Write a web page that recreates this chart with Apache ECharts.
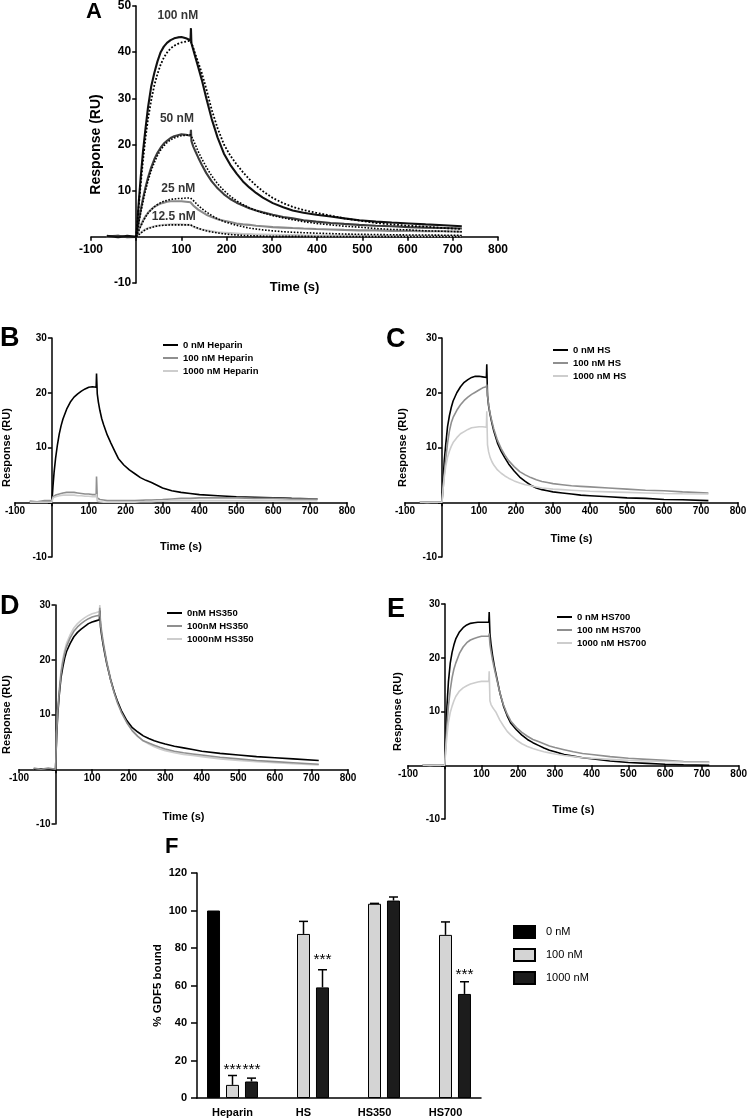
<!DOCTYPE html>
<html>
<head>
<meta charset="utf-8">
<script src="https://cdn.jsdelivr.net/npm/echarts@6/dist/echarts.min.js"></script>
<style>
html,body{margin:0;padding:0;background:#fff;}
#chart{width:750px;height:1120px;}
</style>
</head>
<body>
<div id="chart"></div>
<script>
// ---------- Panel A data (time in s, response in RU) ----------
const tA = [-65,-40,-20,0,3,6,10,15,20,26,33,40,47,54,61,68,76,84,92,100,110,120,121,122,126,130,137,145,155,167,180,194,208,222,236,250,265,280,302,325,346,370,398,430,460,493,530,565,603,640,680,720];
const a100 = [0.2,-0.1,0.2,0,4,8,13,18.5,23,28,32.5,35.5,38,40,41.2,42,42.6,43,43.2,43.3,43,42.6,45.2,42,40.6,39.2,36.8,34,30,25.5,21.5,18,15.6,13.7,12,10.7,9.5,8.5,7.3,6.4,5.7,5.2,4.8,4.4,4,3.6,3.3,3.1,2.9,2.7,2.5,2.3];
const fit100 = [null,null,null,0,3.5,7,11.5,16.5,21,25.5,29.5,32.8,35.3,37.3,38.8,39.9,40.8,41.4,41.8,42.1,42.3,42.5,42.5,42.3,41,39.8,37.8,35.5,32,27.5,23.5,20,17.6,15.7,14,12.5,11.1,9.9,8.4,7.3,6.5,5.8,5.2,4.6,4,3.5,3,2.7,2.4,2.2,1.9,1.7];
const a50 = [0.1,0.2,-0.1,0,1.8,3.6,5.8,8.3,10.5,12.8,15,16.8,18.2,19.3,20.2,20.8,21.4,21.8,22,22.2,22.1,21.9,23.2,20.8,19.6,18.7,17.2,15.6,13.8,12,10.5,9.2,8.2,7.4,6.8,6.2,5.7,5.3,4.8,4.3,4,3.6,3.3,3,2.8,2.6,2.4,2.3,2.1,2,1.9,1.8];
const fit50 = [null,null,null,0,1.6,3.2,5.2,7.6,9.8,12.1,14.3,16.1,17.6,18.8,19.7,20.4,21,21.4,21.7,21.9,22,22.1,22.1,21.9,21,20.1,18.5,16.9,15.1,13.2,11.5,10,8.8,7.8,7,6.3,5.7,5.2,4.6,4.1,3.7,3.3,2.9,2.6,2.3,2.1,1.8,1.6,1.5,1.3,1.2,1.1];
const a25 = [0,0.2,0,0,0.8,1.6,2.5,3.5,4.4,5.2,5.9,6.5,6.9,7.2,7.4,7.6,7.7,7.7,7.7,7.7,7.6,7.5,7.6,7.2,6.8,6.4,5.9,5.4,4.8,4.3,3.8,3.5,3.2,2.9,2.7,2.6,2.4,2.3,2.1,2,1.9,1.8,1.7,1.6,1.5,1.4,1.4,1.3,1.3,1.2,1.2,1.1];
const fit25 = [null,null,null,0,0.7,1.4,2.3,3.3,4.2,5.1,5.9,6.5,7,7.4,7.7,7.9,8.1,8.2,8.3,8.3,8.4,8.4,8.4,8.3,7.9,7.5,6.8,6.1,5.4,4.6,3.9,3.3,2.9,2.5,2.2,1.9,1.7,1.5,1.3,1.1,1,0.9,0.8,0.7,0.6,0.55,0.5,0.45,0.4,0.4,0.35,0.3];
const a12 = [0.1,-0.1,0.1,0,0.3,0.6,0.9,1.3,1.6,1.9,2.1,2.3,2.4,2.5,2.6,2.6,2.7,2.7,2.7,2.7,2.6,2.6,2.6,2.4,2.2,2,1.8,1.6,1.4,1.2,1,0.9,0.8,0.7,0.6,0.6,0.5,0.5,0.45,0.4,0.4,0.35,0.3,0.3,0.3,0.3,0.25,0.25,0.2,0.2,0.2,0.2];
const fit12 = [null,null,null,0,0.25,0.5,0.85,1.2,1.5,1.8,2,2.2,2.35,2.45,2.5,2.55,2.6,2.6,2.6,2.6,2.6,2.6,2.6,2.5,2.3,2.1,1.85,1.6,1.3,1.05,0.85,0.65,0.5,0.4,0.3,0.25,0.2,0.15,0.1,0.1,0.1,0.1,0.08,0.08,0.06,0.06,0.05,0.05,0.05,0.05,0.05,0.05];
const labelsA = [
  {name:'100 nM', t:92, v:47.8},
  {name:'50 nM', t:90, v:25.6},
  {name:'25 nM', t:93, v:10.5},
  {name:'12.5 nM', t:83, v:4.4}
];

// ---------- Panels B-E data ----------
const tS = [-60,-40,-20,0,3,6,10,15,20,25,30,40,50,60,70,80,90,100,110,120,121,123,126,130,135,140,150,160,170,180,195,210,225,240,255,270,285,300,325,350,375,400,450,500,550,600,650,720];
// B: Heparin
const b0 = [0,0,0,0,3,5.5,8,10.5,12.5,14,15.2,17,18.3,19.2,19.8,20.3,20.7,21,21.1,21,23.5,19.8,18.3,16.8,15.3,14.2,12.3,10.8,9.4,8,6.8,5.9,5.2,4.5,4,3.6,3.1,2.6,2.1,1.8,1.6,1.4,1.2,1,0.9,0.8,0.7,0.6];
const b100 = [0.2,0.1,0.3,0.3,1,1.2,1.3,1.4,1.5,1.6,1.7,1.8,1.8,1.8,1.7,1.6,1.5,1.5,1.4,1.4,4.7,0.8,0.6,0.5,0.4,0.4,0.3,0.3,0.3,0.3,0.3,0.3,0.3,0.35,0.4,0.4,0.45,0.5,0.6,0.7,0.7,0.8,0.8,0.8,0.7,0.7,0.6,0.6];
const b1000 = [0,0,0,0,0.8,0.9,1,1.1,1.2,1.2,1.3,1.3,1.3,1.3,1.2,1.2,1.1,1.1,1,1,1.5,0.2,0.1,0.1,0,0,0,0,0,0,0,0,0,0.1,0.1,0.1,0.2,0.2,0.3,0.3,0.3,0.3,0.3,0.3,0.3,0.3,0.3,0.3];
// C: HS
const c0 = [0,0,0,0,4,7.5,10.5,13.8,15.8,17.3,18.5,20,21.1,21.9,22.4,22.8,23,23,22.9,22.8,25.2,19.5,17.6,16,14.4,13,10.8,9.3,8.1,7,5.7,4.6,3.8,3.1,2.6,2.3,2.1,1.9,1.7,1.5,1.3,1.2,1,0.8,0.7,0.5,0.45,0.3];
const c100 = [0.1,-0.1,0.1,0,2.5,5,7.8,10.8,13,14.5,15.5,16.8,17.8,18.6,19.2,19.7,20.1,20.5,20.9,21.1,21.5,19.5,17.8,16.2,14.7,13.4,11.3,9.8,8.6,7.6,6.5,5.6,5,4.5,4.1,3.8,3.6,3.4,3.2,3,2.9,2.8,2.6,2.4,2.2,2.1,1.9,1.7];
const c1000 = [0,0,0,0,2.5,4.5,6.5,8.2,9.3,10.2,10.9,11.8,12.5,12.9,13.3,13.6,13.7,13.8,13.8,13.7,16.6,10.5,9.2,8.2,7.4,6.8,5.9,5.3,4.8,4.4,3.9,3.5,3.2,3,2.8,2.6,2.5,2.4,2.3,2.2,2.1,2,1.9,1.8,1.7,1.6,1.55,1.5];
// D: HS350
const d0 = [0,0.1,0,0,6,10,13.5,16.8,18.7,20.3,21.5,23,24.2,25,25.6,26.1,26.6,26.9,27.1,27.3,29,26,24.5,22.8,21,19.3,16.5,14.2,12.3,10.7,8.9,7.6,6.8,6.1,5.6,5.2,4.9,4.6,4.2,3.9,3.6,3.3,2.9,2.6,2.3,2.1,1.9,1.6];
const d100 = [0.2,0,0.2,0,6.5,10.5,14,17.5,19.6,21.2,22.4,24,25.2,26,26.6,27.1,27.5,27.8,28,28.1,29.5,26.5,25,23.2,21.3,19.5,16.5,14,12,10.4,8.5,7,6,5.2,4.8,4.4,4,3.7,3.3,3,2.8,2.6,2.2,1.9,1.6,1.4,1.2,0.9];
const d1000 = [0,0,0,0,6.8,11,14.6,18,20.2,21.8,23,24.6,25.8,26.6,27.2,27.7,28.1,28.4,28.6,28.8,30,27,25.4,23.5,21.6,19.8,16.8,14.2,12.2,10.5,8.6,7.1,6,5.2,4.6,4.1,3.7,3.4,3,2.7,2.5,2.3,1.9,1.6,1.4,1.2,1,0.8];
// E: HS700
const e0 = [0,0,0,0,6,11,15.5,19,21,22.4,23.5,24.8,25.6,26.1,26.4,26.5,26.6,26.6,26.6,26.6,28.5,24.5,22.5,20.5,18.5,16.8,13.5,11,9.2,7.8,6.6,5.6,4.8,4.2,3.7,3.2,2.8,2.5,2,1.7,1.4,1.2,0.8,0.5,0.35,0.2,0.1,0];
const e100 = [0.1,-0.1,0.1,0,4,7.5,11,14,16.3,17.9,19,20.8,22,22.8,23.3,23.6,23.8,24,24,24,24.5,22.5,21.2,19.6,18,16.5,13.5,11.2,9.5,8.2,7,6.1,5.4,4.8,4.4,4,3.6,3.3,2.9,2.5,2.2,2,1.6,1.3,1.1,0.9,0.7,0.6];
const e1000 = [0,0,0,0,3,5.5,8,9.8,11,12,12.8,13.8,14.4,14.8,15.1,15.3,15.5,15.6,15.6,15.6,17.5,12,11.3,10.8,10.3,9.8,8.4,7.3,6.3,5.6,4.7,4,3.5,3.1,2.8,2.5,2.3,2.1,1.8,1.6,1.4,1.3,1.1,0.9,0.8,0.7,0.6,0.5];

// ---------- Panel F data ----------
const fCats = ['Heparin','HS','HS350','HS700'];
const fSeriesNames = ['0 nM','100 nM','1000 nM'];
const f0 = [100, null, null, null];
const f100 = [7, 87.5, 103.6, 87];
const f1000 = [8.8, 59, 105.3, 55.5];
const f100Err = [5, 6.7, 0.2, 6.9];
const f1000Err = [1.8, 9.4, 1.9, 6.5];
const f100Stars = ['***', '', '', ''];
const f1000Stars = ['***', '***', '', '***'];
const f100StarY = [14.9, null, null, null];
const f1000StarY = [14.9, 73.6, null, 65.6];

// ---------- build ----------
const FONT = '"Liberation Sans", Arial, Helvetica, sans-serif';
const BLACK = '#000000', GRAY = '#8f8f8f', LIGHT = '#cdcdcd';

const GRIDS = [
  {left: 91, top: 5, width: 407, height: 278},
  {left: 15, top: 338, width: 332, height: 219},
  {left: 405, top: 338, width: 333, height: 219},
  {left: 19, top: 605, width: 329, height: 219},
  {left: 408, top: 604, width: 334, height: 215},
  {left: 197, top: 873, width: 284, height: 225}
];
const X_MIN = -100, X_MAX = 800, Y_MIN = -10;
const Y_MAX = [50, 30, 30, 30, 30];

function pairs(t, v) {
  const out = [];
  for (let i = 0; i < t.length; i++) if (v[i] != null) out.push([t[i], v[i]]);
  return out;
}
function lineS(name, t, v, gi, color, width, type, z) {
  return {
    type: 'line', name: name, xAxisIndex: gi, yAxisIndex: gi,
    data: pairs(t, v), showSymbol: false, symbol: 'none', silent: true,
    lineStyle: {color: color, width: width, type: type || 'solid'},
    itemStyle: {color: color}, z: z || 2, animation: false
  };
}
function hideZero(v) { return v === 0 ? '' : String(v); }

// axes drawn through the origin: shift them inward with a (negative) offset
function sensX(gi, fs, nfs, gap, margin) {
  const g = GRIDS[gi];
  const off = -g.height * (0 - Y_MIN) / (Y_MAX[gi] - Y_MIN);
  return {
    type: 'value', gridIndex: gi, min: X_MIN, max: X_MAX, interval: 100,
    position: 'bottom', offset: off,
    axisLine: {show: true, onZero: false, lineStyle: {color: '#000', width: 1.5}},
    axisTick: {show: true, length: 4, lineStyle: {color: '#000', width: 1.5}},
    axisLabel: {formatter: hideZero, fontSize: fs, fontWeight: 'bold', color: '#000', fontFamily: FONT, margin: margin},
    splitLine: {show: false},
    name: 'Time (s)', nameLocation: 'middle', nameGap: gap,
    nameTextStyle: {fontSize: nfs, fontWeight: 'bold', color: '#000', fontFamily: FONT}
  };
}
function sensY(gi, fs, nfs, gap, margin) {
  const g = GRIDS[gi];
  const off = -g.width * (0 - X_MIN) / (X_MAX - X_MIN);
  return {
    type: 'value', gridIndex: gi, min: Y_MIN, max: Y_MAX[gi], interval: 10,
    position: 'left', offset: off,
    axisLine: {show: true, onZero: false, lineStyle: {color: '#000', width: 1.5}},
    axisTick: {show: true, length: 4, lineStyle: {color: '#000', width: 1.5}},
    axisLabel: {formatter: hideZero, fontSize: fs, fontWeight: 'bold', color: '#000', fontFamily: FONT, margin: margin},
    splitLine: {show: false},
    name: 'Response (RU)', nameLocation: 'middle', nameGap: gap,
    nameTextStyle: {fontSize: nfs, fontWeight: 'bold', color: '#000', fontFamily: FONT}
  };
}
function sensLegend(names, left, top) {
  return {
    data: names, left: left, top: top, orient: 'vertical', icon: 'rect',
    itemWidth: 15, itemHeight: 2, itemGap: 1, selectedMode: false, padding: 0,
    textStyle: {fontSize: 9.5, fontWeight: 'bold', color: '#000', fontFamily: FONT, lineHeight: 12}
  };
}

const BAR_W = 13, BAR_STEP = 19;
function errSeries(vals, errs, offset, stars, starY) {
  return {
    type: 'custom', xAxisIndex: 5, yAxisIndex: 5, silent: true, z: 5,
    data: vals.map((v, i) => [i, v == null ? 0 : v, v == null ? 0 : v + errs[i]]),
    renderItem: function (params, api) {
      const i = params.dataIndex;
      if (vals[i] == null) return null;
      const p0 = api.coord([api.value(0), api.value(1)]);
      const p1 = api.coord([api.value(0), api.value(2)]);
      const x = p0[0] + offset;
      const children = [
        {type: 'line', shape: {x1: x, y1: p0[1], x2: x, y2: p1[1]}, style: {stroke: '#000', lineWidth: 1.5}},
        {type: 'line', shape: {x1: x - 4.5, y1: p1[1], x2: x + 4.5, y2: p1[1]}, style: {stroke: '#000', lineWidth: 1.5}}
      ];
      if (stars[i]) {
        const ps = api.coord([api.value(0), starY[i]]);
        children.push({type: 'text', style: {text: stars[i], x: x, y: ps[1], align: 'center', verticalAlign: 'middle',
          font: '15.5px ' + FONT, fill: '#000'}});
      }
      return {type: 'group', children: children};
    }
  };
}

const LW_A = 2.1, LW_S = 1.6;
const series = [
  // Panel A
  lineS('A 12.5', tA, a12, 0, '#c8c8c8', LW_A),
  lineS('A 25', tA, a25, 0, '#8a8a8a', LW_A),
  lineS('A 50', tA, a50, 0, '#3c3c3c', LW_A),
  lineS('A 100', tA, a100, 0, '#111111', LW_A),
  lineS('A fit 12.5', tA, fit12, 0, '#000', 1.6, 'dotted', 3),
  lineS('A fit 25', tA, fit25, 0, '#000', 1.6, 'dotted', 3),
  lineS('A fit 50', tA, fit50, 0, '#000', 1.6, 'dotted', 3),
  lineS('A fit 100', tA, fit100, 0, '#000', 1.8, 'dotted', 3),
  {
    type: 'scatter', xAxisIndex: 0, yAxisIndex: 0, symbolSize: 0, silent: true, z: 6,
    data: labelsA.map(d => ({name: d.name, value: [d.t, d.v]})),
    label: {show: true, position: 'inside', formatter: '{b}', fontSize: 12, fontWeight: 'bold', color: '#000', fontFamily: FONT}
  },
  // Panel B
  lineS('0 nM Heparin', tS, b0, 1, BLACK, LW_S),
  lineS('100 nM Heparin', tS, b100, 1, GRAY, LW_S),
  lineS('1000 nM Heparin', tS, b1000, 1, LIGHT, LW_S),
  // Panel C
  lineS('0 nM HS', tS, c0, 2, BLACK, LW_S),
  lineS('100 nM HS', tS, c100, 2, GRAY, LW_S),
  lineS('1000 nM HS', tS, c1000, 2, LIGHT, LW_S),
  // Panel D
  lineS('1000nM HS350', tS, d1000, 3, LIGHT, LW_S),
  lineS('0nM HS350', tS, d0, 3, BLACK, LW_S),
  lineS('100nM HS350', tS, d100, 3, GRAY, LW_S),
  // Panel E
  lineS('0 nM HS700', tS, e0, 4, BLACK, LW_S),
  lineS('100 nM HS700', tS, e100, 4, GRAY, LW_S),
  lineS('1000 nM HS700', tS, e1000, 4, LIGHT, LW_S),
  // Panel F bars
  {type: 'bar', name: fSeriesNames[0], xAxisIndex: 5, yAxisIndex: 5, data: f0.map(v => v == null ? '-' : v),
    barWidth: BAR_W, barGap: '46%', itemStyle: {color: '#000000', borderColor: '#000', borderWidth: 1}},
  {type: 'bar', name: fSeriesNames[1], xAxisIndex: 5, yAxisIndex: 5, data: f100.map(v => v == null ? '-' : v),
    barWidth: BAR_W, barGap: '46%', itemStyle: {color: '#d4d4d4', borderColor: '#000', borderWidth: 1}},
  {type: 'bar', name: fSeriesNames[2], xAxisIndex: 5, yAxisIndex: 5, data: f1000.map(v => v == null ? '-' : v),
    barWidth: BAR_W, barGap: '46%', itemStyle: {color: '#1c1c1c', borderColor: '#000', borderWidth: 1}},
  errSeries(f100, f100Err, 0, f100Stars, f100StarY),
  errSeries(f1000, f1000Err, BAR_STEP, f1000Stars, f1000StarY)
];

const option = {
  animation: false,
  backgroundColor: '#ffffff',
  textStyle: {fontFamily: FONT},
  grid: GRIDS,
  xAxis: [
    sensX(0, 12, 13, 44, 7),
    sensX(1, 10, 11, 39, 4),
    sensX(2, 10, 11, 31, 4),
    sensX(3, 10, 11, 42, 4),
    sensX(4, 10, 11, 39, 4),
    {type: 'category', gridIndex: 5, data: fCats,
      axisLine: {lineStyle: {color: '#000', width: 1.5}},
      axisTick: {alignWithLabel: true, length: 5, lineStyle: {color: '#000', width: 1.5}},
      axisLabel: {fontSize: 11, fontWeight: 'bold', color: '#000', fontFamily: FONT, margin: 9}}
  ],
  yAxis: [
    sensY(0, 12, 14, 28, 5),
    sensY(1, 10, 11, 39, 5),
    sensY(2, 10, 11, 34, 5),
    sensY(3, 10, 11, 43, 5),
    sensY(4, 10, 11, 42, 5),
    {type: 'value', gridIndex: 5, min: 0, max: 120, interval: 20,
      axisLine: {show: true, lineStyle: {color: '#000', width: 1.5}},
      axisTick: {show: true, length: 6, lineStyle: {color: '#000', width: 1.5}},
      axisLabel: {fontSize: 11, fontWeight: 'bold', color: '#000', fontFamily: FONT, margin: 10},
      splitLine: {show: false},
      name: '% GDF5 bound', nameLocation: 'middle', nameGap: 33,
      nameTextStyle: {fontSize: 11.5, fontWeight: 'bold', color: '#000', fontFamily: FONT}}
  ],
  legend: [
    sensLegend(['0 nM Heparin','100 nM Heparin','1000 nM Heparin'], 163, 339),
    sensLegend(['0 nM HS','100 nM HS','1000 nM HS'], 553, 344),
    sensLegend(['0nM HS350','100nM HS350','1000nM HS350'], 167, 607),
    sensLegend(['0 nM HS700','100 nM HS700','1000 nM HS700'], 557, 611),
    {data: fSeriesNames, left: 513, top: 925, orient: 'vertical', icon: 'rect',
      itemWidth: 21, itemHeight: 12, itemGap: 9, selectedMode: false, padding: 0,
      textStyle: {fontSize: 11, color: '#000', fontFamily: FONT, padding: [0, 0, 0, 6]}}
  ],
  graphic: [
    {type: 'text', left: 86, top: 1, style: {text: 'A', font: 'bold 22px ' + FONT, fill: '#000'}},
    {type: 'text', left: 0, top: 325, style: {text: 'B', font: 'bold 27px ' + FONT, fill: '#000'}},
    {type: 'text', left: 386, top: 326, style: {text: 'C', font: 'bold 27px ' + FONT, fill: '#000'}},
    {type: 'text', left: 0, top: 593, style: {text: 'D', font: 'bold 27px ' + FONT, fill: '#000'}},
    {type: 'text', left: 387, top: 596, style: {text: 'E', font: 'bold 27px ' + FONT, fill: '#000'}},
    {type: 'text', left: 165, top: 836, style: {text: 'F', font: 'bold 22px ' + FONT, fill: '#000'}}
  ],
  series: series
};

const chart = echarts.init(document.getElementById('chart'), null, {renderer: 'canvas'});
chart.setOption(option);
</script>
</body>
</html>
